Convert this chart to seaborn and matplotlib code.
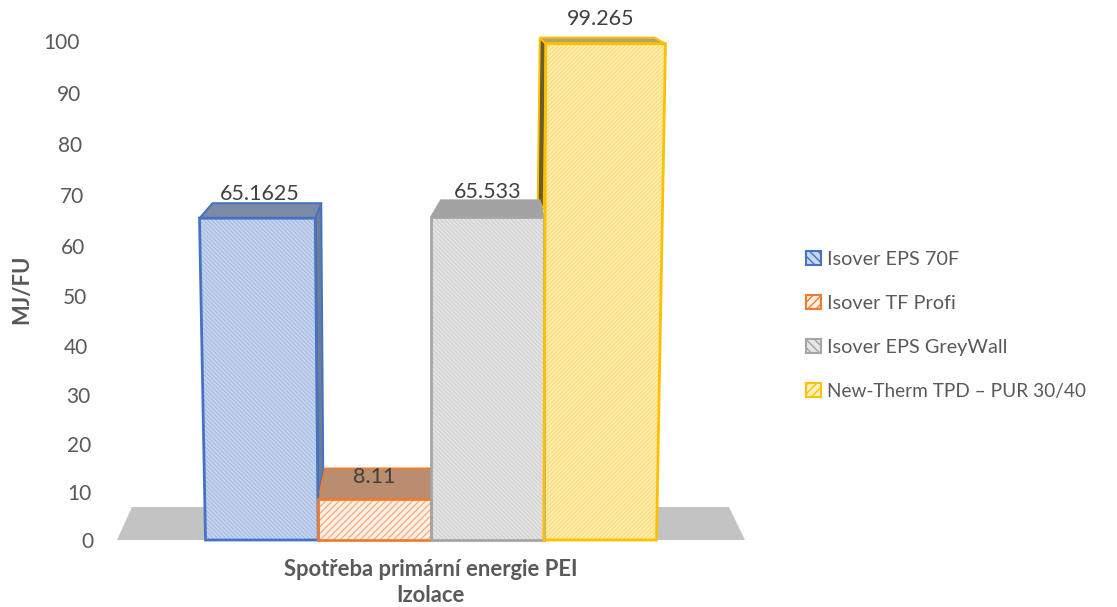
import pandas as pd
import seaborn as sns
import matplotlib.pyplot as plt
from matplotlib.patches import Patch, Polygon
from matplotlib.transforms import ScaledTranslation

category = ['Spotřeba primární energie PEI']
series = ['Isover EPS 70F', 'Isover TF Profi', 'Isover EPS GreyWall', 'New-Therm TPD – PUR 30/40']
values = [65.1625, 8.11, 65.533, 99.265]
value_labels = ['65.1625', '8.11', '65.533', '99.265']
y_ticks = list(range(0, 101, 10))

edge_colors = ['#4472c4', '#ed7d31', '#a5a5a5', '#ffc000']
face_colors = ['#c9d7ef', '#fff0e6', '#e6e6e6', '#fff0bd']
hatch_colors = ['#a9bee4', '#f6b086', '#d2d2d2', '#ffdc70']
hatches = ['\\\\\\\\\\\\\\\\', '/////', '\\\\\\\\\\\\\\\\', '////////']
top_colors = ['#7c8aa6', '#b98d6e', '#a3a3a3', '#b5a468']
side_colors = ['#6e7c98', '#a98a70', '#8c8c8c', '#6a5c2c']

df = pd.DataFrame({'cat': category * len(series), 'series': series, 'value': values})

sns.set_theme(style='white')
plt.rcParams['font.family'] = ['Lato', 'DejaVu Sans']
plt.rcParams['hatch.linewidth'] = 1.0

W, H = 1117, 607
fig = plt.figure(figsize=(W / 100, H / 100), dpi=100)
# axes: x 117..745 px, y 40..540 px
ax = fig.add_axes([117 / W, (H - 540) / H, 628 / W, 500 / H])

bar_w = 451 / 628
sns.barplot(data=df, x='cat', y='value', hue='series', palette=edge_colors, width=bar_w,
            gap=0, saturation=1, legend=False, ax=ax)
ax.set_xlim(-0.5, 0.5)
ax.set_ylim(0, 100)
sns.despine(ax=ax, left=True, bottom=True)

px = 1 / 628
py = 100 / 500

# perspective offsets in pixels, per bar: front top left/right dx, front dy
front = [(-6, -3, -4), (0, 0, 0), (0, 0, -5), (2, 9, 0)]
# back edge of the top face relative to front top corners
back = [(13, 6, 15), (7, 0, 31), (10, -4, 17), (-6, -11, 6)]
# where the visible side faces end, px above the base
side_end = {0: 40, 3: 335}
# label centre relative to front top centre, px
label_off = [(-2, 24), (0, 22), (0, 25), (0, 25)]

bars = list(ax.patches)

# floor
ax.add_patch(Polygon([(0, 0), (15 / 628, 33 / 500), (612 / 628, 33 / 500), (1, 0)],
                     transform=ax.transAxes, fc='#c3c3c3', ec='none', zorder=1))

for i, bar in enumerate(bars):
    bar.set_visible(False)
    x0, x1 = bar.get_x(), bar.get_x() + bar.get_width()
    ftop = bar.get_height() + front[i][2] * py
    fl = x0 + front[i][0] * px
    fr = x1 + front[i][1] * px
    bl = fl + back[i][0] * px
    br = fr + back[i][1] * px
    btop = ftop + back[i][2] * py

    top_face = [(fl, ftop), (bl, btop), (br, btop), (fr, ftop)]
    ax.add_patch(Polygon(top_face, fc=top_colors[i], ec=edge_colors[i] if i != 2 else top_colors[i],
                         lw=1.4, zorder=5, clip_on=False))
    if i == 0:
        side = [(fr, ftop), (br, btop), (x1 + 5 * px, side_end[0] * py + 31 * py), (x1, side_end[0] * py)]
        ax.add_patch(Polygon(side, fc=side_colors[i], ec=edge_colors[i], lw=1.4, zorder=3))
    if i == 3:
        side = [(bl, btop), (fl, ftop), (x0, side_end[3] * py - 5 * py), (x0 - 6 * px, side_end[3] * py + 6 * py)]
        ax.add_patch(Polygon(side, fc=side_colors[i], ec=edge_colors[i], lw=1.4, zorder=2.5, clip_on=False))

    face = [(fl, ftop), (fr, ftop), (x1, 0), (x0, 0)]
    ax.add_patch(Polygon(face, fc=face_colors[i], ec=hatch_colors[i], hatch=hatches[i], lw=0, zorder=8))
    ax.add_patch(Polygon(face, fill=False, ec=edge_colors[i], lw=2, zorder=9, clip_on=False))
    ax.text((x0 + x1) / 2 + label_off[i][0] * px, ftop + label_off[i][1] * py, value_labels[i],
            ha='center', va='center', fontsize=15.5, color='#404040', zorder=12)

ax.set_yticks(y_ticks)
ax.tick_params(axis='y', length=0, labelsize=15, labelcolor='#595959')
ax.tick_params(axis='x', length=0, pad=14)

# the axis is drawn slanted in the source: labels drift with height, in px
label_right = [94, 92, 91, 90, 88.5, 87, 85.5, 84, 82.5, 81, 79.5]
label_drop = [0, 2, 3.7, 4.7, 5.7, 6, 6, 5, 4, 2.7, 0.7]
for tick, right, drop in zip(ax.yaxis.get_major_ticks(), label_right, label_drop):
    tick.set_pad((117 - right) * 0.72)
    lab = tick.label1
    lab.set_transform(lab.get_transform() + ScaledTranslation(0, -drop / 100, fig.dpi_scale_trans))

for t in ax.get_xticklabels():
    t.set_fontsize(15.8)
    t.set_fontweight('bold')
    t.set_color('#595959')
ax.set_ylabel('')
ax.set_xlabel('')
fig.text(430 / W, 1 - 595 / H, 'Izolace', ha='center', va='center', fontsize=15.8,
         fontweight='bold', color='#595959')
fig.text(22 / W, 1 - 289 / H, 'MJ/FU', ha='center', va='center', rotation=90, fontsize=15.8,
         fontweight='bold', color='#595959')

handles = [Patch(fc=face_colors[i], ec=edge_colors[i], hatch=hatches[i][:4], lw=1.5, label=series[i])
           for i in range(len(series))]
leg = fig.legend(handles=handles, loc='center left', bbox_to_anchor=(806 / W, 1 - 325.5 / H), frameon=False,
                 fontsize=14.3, labelcolor='#595959', handlelength=0.75, handleheight=0.75,
                 handletextpad=0.3, labelspacing=1.35, borderpad=0, borderaxespad=0)
leg.get_texts()[3].set_fontsize(13.7)

fig.savefig('out.png', dpi=100)
